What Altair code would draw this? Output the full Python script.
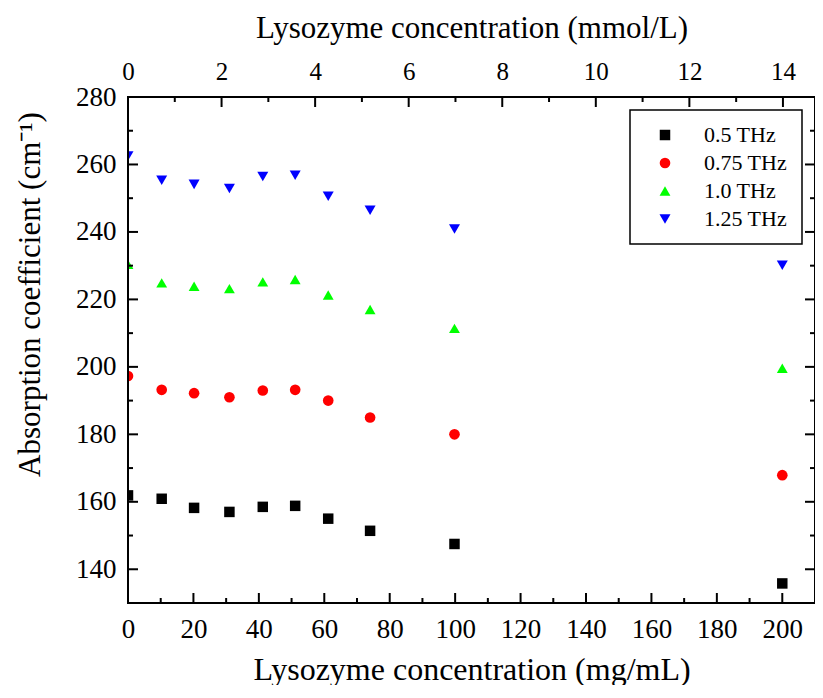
import altair as alt
import pandas as pd

# ---- data ----
conc_mg = [0, 10.3, 20.2, 31.0, 41.2, 51.1, 61.2, 74.0, 99.8, 200.0]
abs_05 = [161.9, 160.9, 158.2, 157.0, 158.5, 158.8, 155.0, 151.4, 147.5, 135.8]
abs_075 = [197.3, 193.2, 192.2, 191.0, 193.0, 193.2, 190.0, 185.0, 180.0, 167.9]
abs_10 = [230.4, 224.9, 223.9, 223.2, 225.2, 225.9, 221.3, 217.0, 211.4, 199.6]
abs_125 = [262.5, 255.3, 254.1, 252.9, 256.4, 256.8, 250.6, 246.4, 240.9, 230.1]
series_names = ["0.5 THz", "0.75 THz", "1.0 THz", "1.25 THz"]
series_colors = ["#000000", "#ff0000", "#00ff00", "#0000ff"]
series_shapes = ["square", "circle", "triangle-up", "triangle-down"]
series_sizes = [110, 121, 177, 177]

bottom_major = list(range(0, 201, 20))
bottom_minor = list(range(10, 200, 20))
left_major = list(range(140, 281, 20))
left_minor = list(range(150, 280, 20))
top_major = list(range(0, 15, 2))
top_minor = list(range(1, 14, 2))

MW = 14.3  # mg/mL per mmol/L
X_MAX = 210
Y_MIN, Y_MAX = 130, 280
W, H = 687, 506
FONT = "Liberation Serif"

rows = []
for name, vals in zip(series_names, [abs_05, abs_075, abs_10, abs_125]):
    for c, v in zip(conc_mg, vals):
        rows.append({"mg": c, "value": v, "series": name})
df = pd.DataFrame(rows)

xs = alt.Scale(domain=[0, X_MAX], nice=False, zero=False)
ys = alt.Scale(domain=[Y_MIN, Y_MAX], nice=False, zero=False)


def xticks(values_mg, side, length):
    d = pd.DataFrame({"tx": values_mg})
    m = alt.Chart(d).mark_rule(color="black", strokeWidth=2)
    if side == "bottom":
        return m.encode(x=alt.X("tx:Q", scale=xs, axis=None), y=alt.value(H - length), y2=alt.value(H))
    return m.encode(x=alt.X("tx:Q", scale=xs, axis=None), y=alt.value(0), y2=alt.value(length))


def yticks(values, side, length):
    d = pd.DataFrame({"ty": values})
    m = alt.Chart(d).mark_rule(color="black", strokeWidth=2)
    if side == "left":
        return m.encode(y=alt.Y("ty:Q", scale=ys, axis=None), x=alt.value(0), x2=alt.value(length))
    return m.encode(y=alt.Y("ty:Q", scale=ys, axis=None), x=alt.value(W - length), x2=alt.value(W))


frame = alt.Chart(pd.DataFrame({"x0": [0], "x1": [X_MAX], "y0": [Y_MIN], "y1": [Y_MAX]})).mark_rect(
    fill=None, stroke="black", strokeWidth=2).encode(
    x=alt.X("x0:Q", scale=xs, axis=None), x2="x1:Q",
    y=alt.Y("y0:Q", scale=ys, axis=None), y2="y1:Q")

legend = alt.Legend(title=None, orient="none", legendX=502, legendY=13,
                    strokeColor="black", fillColor="white", padding=14,
                    symbolOffset=10, labelOffset=28, rowPadding=6,
                    symbolSize=200, labelFont=FONT, labelFontSize=22,
                    labelColor="black", symbolStrokeWidth=0, symbolOpacity=1)

points = alt.Chart(df).mark_point(filled=True, opacity=1, strokeWidth=0, clip=True).encode(
    x=alt.X("mg:Q", scale=xs, axis=alt.Axis(
        orient="bottom", values=bottom_major, ticks=False, tickSize=0,
        labelPadding=13, labelFontSize=27, labelFlush=False, labelOverlap=False,
        title="Lysozyme concentration (mg/mL)", titleFontSize=32,
        titleBaseline="alphabetic", titleY=76, domain=False, grid=False)),
    y=alt.Y("value:Q", scale=ys, axis=alt.Axis(
        orient="left", values=left_major, ticks=False, tickSize=0,
        labelPadding=12, labelFontSize=27, labelFlush=False, labelOverlap=False,
        title="Absorption coefficient (cm⁻¹)", titleFontSize=31,
        titleBaseline="alphabetic", titleAlign="center", titleX=-89, titleY=197,
        domain=False, grid=False)),
    color=alt.Color("series:N", scale=alt.Scale(domain=series_names, range=series_colors), legend=legend),
    shape=alt.Shape("series:N", scale=alt.Scale(domain=series_names, range=series_shapes), legend=legend),
    size=alt.Size("series:N", scale=alt.Scale(domain=series_names, range=series_sizes), legend=None),
)

top_vals_mg = [v * MW for v in top_major]
top_labels = alt.Chart(pd.DataFrame({"tm": top_vals_mg})).mark_point(opacity=0).encode(
    x=alt.X("tm:Q", scale=xs, axis=alt.Axis(
        orient="top", values=top_vals_mg, ticks=False, tickSize=0,
        labelExpr="format(datum.value / %s, '.0f')" % MW,
        labelPadding=13, labelFontSize=25, labelFlush=False, labelOverlap=False,
        title="Lysozyme concentration (mmol/L)", titleFontSize=31,
        titleBaseline="alphabetic", titleY=-60, domain=False, grid=False)),
)

chart = alt.layer(
    points,
    top_labels,
    frame,
    xticks(bottom_major, "bottom", 10), xticks(bottom_minor, "bottom", 5),
    xticks(top_vals_mg, "top", 10), xticks([v * MW for v in top_minor], "top", 5),
    yticks(left_major, "left", 10), yticks(left_minor, "left", 5),
    yticks(left_major, "right", 10), yticks(left_minor, "right", 5),
).resolve_axis(
    x="independent", y="independent"
).properties(
    width=W, height=H,
    autosize=alt.AutoSizeParams(type="none"),
    padding={"left": 120, "top": 89, "right": 0, "bottom": 82},
).configure_axis(
    labelFont=FONT, titleFont=FONT, labelColor="black", titleColor="black",
    titleFontWeight="normal",
).configure_view(
    stroke="black", strokeWidth=2
).configure_legend(
    strokeWidth=1.5
)

chart.save("out.html", embed_options={"renderer": "svg", "actions": False})
